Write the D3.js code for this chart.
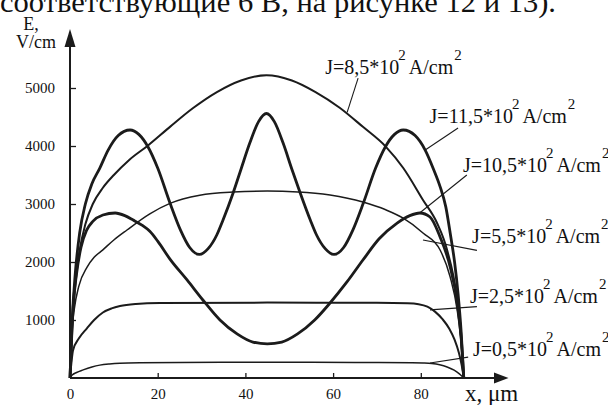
<!DOCTYPE html>
<html>
<head>
<meta charset="utf-8">
<script src="https://cdn.jsdelivr.net/npm/d3@7"></script>
<style>
  html, body { margin: 0; padding: 0; background: #fff; }
  svg { display: block; }
  text { font-family: "Liberation Serif", "Times New Roman", serif; fill: #111; }
</style>
</head>
<body>
<svg id="chart" width="608" height="405"></svg>
<script>
// Field strength E (V/cm) across the structure, x in µm, for several current densities.
const xTicks = [0, 20, 40, 60, 80];
const yTicks = [1000, 2000, 3000, 4000, 5000];

const j05 = [[0,0],[0.5,50],[1.5,95],[3,140],[5,190],[6.8,222],[9,243],[11.4,256],[16,264],[25,268],[45,270],[65,269],[78,265],[80.5,260],[82.5,250],[84.3,228],[86,190],[87.6,135],[88.8,70],[89.8,0]];
const j25 = [[0,0],[0.7,480],[2,680],[3.9,860],[5.5,1000],[7.5,1130],[9.5,1200],[11.4,1240],[15,1275],[20.5,1292],[45,1300],[70,1297],[77,1288],[79.5,1272],[81.5,1230],[83.3,1140],[85,1010],[86.5,850],[87.7,660],[88.7,430],[89.3,230],[89.8,0]];
const j55 = [[0,0],[0.5,850],[1,1200],[2,1580],[3.9,1910],[5.5,2080],[7.5,2210],[10,2380],[13,2552],[18.2,2830],[22.8,3010],[29.6,3150],[37.2,3205],[45,3222],[52,3208],[59.3,3155],[66.8,3034],[72,2900],[75.9,2759],[80.5,2500],[84.4,2207],[86.7,1741],[88.3,1172],[89.2,600],[89.8,0]];
const j85 = [[0,0],[0.5,900],[1.2,1600],[2.2,2200],[3.5,2650],[5.2,3000],[7.5,3280],[10,3500],[13.5,3760],[17.8,4010],[22.8,4330],[28,4650],[33.5,4930],[39,5130],[44.8,5220],[50.6,5130],[56,4930],[61.5,4660],[66.8,4330],[72,3990],[76,3620],[80.5,3069],[83.7,2672],[86,2207],[88.3,1345],[89.3,600],[89.8,0]];
const j105 = [[0,0],[0.7,1200],[1.5,1800],[2.5,2250],[3.8,2550],[5.2,2700],[7.5,2810],[10.3,2845],[12.5,2800],[14.4,2724],[16.5,2630],[18.2,2530],[20,2360],[22.8,2050],[26.7,1690],[30.3,1345],[34.2,1000],[38.1,760],[41.7,620],[45,590],[48.3,620],[51.9,760],[55.8,1000],[59.3,1293],[63.2,1660],[66.8,2034],[70.5,2400],[74.6,2672],[77.5,2800],[79.8,2845],[82.1,2776],[84.4,2431],[86.7,1914],[88.3,1300],[89.2,700],[89.8,0]];
const j115 = [[0,0],[0.5,1000],[1.2,1800],[2.2,2500],[3.5,3000],[5,3350],[6.8,3620],[8.7,3930],[11,4180],[13.7,4276],[15.7,4200],[17.8,3983],[20,3620],[22.8,3017],[25.2,2550],[27.3,2250],[29.5,2130],[31.5,2230],[33.5,2470],[34.9,2724],[37.2,3190],[39,3600],[41,4050],[43,4420],[44.8,4560],[46.6,4420],[48.6,4050],[50.6,3600],[52.5,3190],[54.8,2724],[56.2,2470],[58.2,2230],[60.2,2130],[62.4,2250],[64.5,2550],[66.9,3017],[69.7,3620],[71.9,3983],[74,4200],[76,4276],[78.7,4180],[81,3930],[82.9,3600],[84.4,3300],[85.7,2950],[86.7,2500],[87.7,2000],[88.5,1450],[89.2,800],[89.8,0]];

const svg = d3.select("#chart");
const x = d3.scaleLinear().domain([0, 100]).range([70, 508.5]);
const y = d3.scaleLinear().domain([0, 5000]).range([378, 88]);
const ink = "#1b1b1b";

// Running sentence above the figure
svg.append("text")
  .attr("x", 0).attr("y", 12)
  .attr("textLength", 556).attr("lengthAdjust", "spacingAndGlyphs")
  .style("font-size", "30px")
  .text("соответствующие 6 В, на рисунке 12 и 13).");

// Axes with ticks and labels
const gx = svg.append("g").attr("transform", `translate(0,${y(0)})`)
  .call(d3.axisBottom(x).tickValues(xTicks).tickFormat(d3.format("d"))
    .tickSizeInner(-5).tickSizeOuter(0).tickPadding(10));
const gy = svg.append("g").attr("transform", `translate(${x(0)},0)`)
  .call(d3.axisLeft(y).tickValues(yTicks).tickFormat(d3.format("d"))
    .tickSizeInner(-6).tickSizeOuter(0).tickPadding(15));
[gx, gy].forEach(g => {
  g.select(".domain").remove();
  g.selectAll(".tick line").attr("stroke", ink).attr("stroke-width", 1.3);
  g.selectAll(".tick text").style("font-size", "15px")
    .style("font-family", "'Liberation Serif', 'Times New Roman', serif").attr("fill", ink);
});

// Axis lines with arrow heads
svg.append("line").attr("x1", x(0)).attr("y1", y(0)).attr("x2", 498).attr("y2", y(0))
  .attr("stroke", ink).attr("stroke-width", 2);
svg.append("path").attr("d", `M508.5,${y(0)} L494,${y(0) - 5.5} L494,${y(0) + 5.5} Z`).attr("fill", ink);
svg.append("line").attr("x1", x(0)).attr("y1", y(0)).attr("x2", x(0)).attr("y2", 40)
  .attr("stroke", ink).attr("stroke-width", 2);
svg.append("path").attr("d", `M${x(0)},29 L${x(0) - 5.5},47 L${x(0) + 5.5},47 Z`).attr("fill", ink);

svg.append("text").attr("x", 31).attr("y", 30).attr("text-anchor", "middle")
  .style("font-size", "18px").text("E,");
svg.append("text").attr("x", 56).attr("y", 48).attr("text-anchor", "end")
  .style("font-size", "18px").text("V/cm");
svg.append("text").attr("x", 465).attr("y", 401)
  .style("font-size", "23px").text("x, μm");

// Curves
const line = d3.line().x(d => x(d[0])).y(d => y(d[1])).curve(d3.curveMonotoneX);
const series = [
  { data: j05, w: 1.5 },
  { data: j25, w: 2.0 },
  { data: j55, w: 1.5 },
  { data: j85, w: 2.0 },
  { data: j105, w: 2.8 },
  { data: j115, w: 2.8 }
];
svg.append("g").selectAll("path").data(series).join("path")
  .attr("d", d => line(d.data))
  .attr("fill", "none").attr("stroke", ink).attr("stroke-width", d => d.w)
  .attr("stroke-linejoin", "round");

// Curve labels with leader lines (anchors given in data units)
const labels = [
  { j: "8,5",  tx: 58.2, tE: 5250, from: [65.7, 5170], to: [63.2, 4580] },
  { j: "11,5", tx: 82.0, tE: 4400, from: [88.5, 4310], to: [81.0, 3930] },
  { j: "10,5", tx: 89.6, tE: 3560, from: [90.5, 3500], to: [79.8, 2850] },
  { j: "5,5",  tx: 91.7, tE: 2320, from: [92.8, 2200], to: [80.5, 2380] },
  { j: "2,5",  tx: 91.2, tE: 1290, from: [92.8, 1230], to: [82.1, 1175] },
  { j: "0,5",  tx: 91.9, tE: 380,  from: [90.8, 360],  to: [82.1, 260] }
];
const gl = svg.append("g");
labels.forEach(l => {
  gl.append("line")
    .attr("x1", x(l.from[0])).attr("y1", y(l.from[1]))
    .attr("x2", x(l.to[0])).attr("y2", y(l.to[1]))
    .attr("stroke", ink).attr("stroke-width", 1.1);
  const t = gl.append("text").attr("x", x(l.tx)).attr("y", y(l.tE)).style("font-size", "20px");
  t.append("tspan").text(`J=${l.j}*10`);
  t.append("tspan").attr("dx", -1).attr("dy", -14).style("font-size", "15px").text("2");
  t.append("tspan").attr("dx", 3).attr("dy", 14).text("A/cm");
  t.append("tspan").attr("dx", 1).attr("dy", -14).style("font-size", "15px").text("2");
});
</script>
</body>
</html>
